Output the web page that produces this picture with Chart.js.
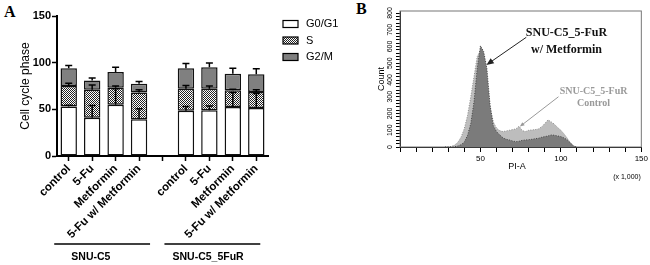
<!DOCTYPE html>
<html>
<head>
  <title>Cell cycle</title>
  <script src="https://cdn.jsdelivr.net/npm/chart.js"></script>
  <style>
    body {
      margin: 0;
      width: 650px;
      height: 265px;
      position: relative;
      overflow: hidden;
      background: #fff;
    }
    #cycleChart { position: absolute; left: 0; top: 0; }
    #histChart { position: absolute; left: 360px; top: 0; }
    .panel {
      position: absolute;
      font: bold 16px "Liberation Serif", serif;
      color: #000;
      line-height: 16px;
    }
  </style>
</head>
<body>
  <div class="panel" style="left:4px; top:4px">A</div>
  <div class="panel" style="left:356px; top:1px">B</div>
  <canvas id="cycleChart" width="360" height="265"></canvas>
  <canvas id="histChart" width="290" height="265"></canvas>

  <script>
    // panel A - cell cycle phases
    const categories = ['control', '5-Fu', 'Metformin', '5-Fu w/ Metformin', '', 'control', '5-Fu', 'Metformin', '5-Fu w/ Metformin'];
    const groupNames = ['SNU-C5', 'SNU-C5_5FuR'];
    const groupIndex = [[0, 3], [5, 8]];
    const g0g1 = [53, 41, 55, 39.5, null, 48.5, 49, 52.5, 51.5];
    const sPhase = [22, 30, 18, 28.5, null, 23.5, 23, 18, 17];
    const g2m = [19, 10, 17, 9.5, null, 22, 23, 17.5, 19];
    const g0g1Err = [1.5, 13, 17, 11, null, 4.5, 4.5, 15.5, 15.5];
    const sErr = [3, 5, 2, 3, null, 3.5, 3, 1, 2.5];
    const g2mErr = [3, 2.7, 5, 2.3, null, 5, 4.6, 6, 6];
    const cycleTicks = [0, 50, 100, 150];

    // panel B - PI histogram (x in thousands)
    const piValues = [28, 30, 32, 34, 36, 38, 40, 42, 44, 46, 48, 50, 52, 54, 56, 58, 60, 62, 64, 66, 68, 70,
                      72, 74, 76, 78, 80, 82, 84, 86, 88, 90, 92, 94, 96, 98, 100, 102, 104, 106, 108, 110];
    const controlCounts = [0, 0, 4, 12, 28, 60, 110, 190, 300, 420, 540, 575, 520, 390, 240, 150, 112, 98, 92, 96, 100, 104,
                           108, 124, 98, 92, 100, 102, 104, 108, 120, 140, 162, 150, 136, 116, 100, 78, 52, 22, 4, 0];
    const metforminCounts = [0, 0, 0, 2, 6, 14, 30, 70, 140, 270, 470, 605, 570, 470, 250, 125, 92, 72, 55, 46, 42, 36,
                             32, 34, 40, 42, 44, 46, 50, 52, 58, 62, 66, 72, 70, 66, 62, 54, 42, 24, 6, 0];
    const countLabels = [0, 100, 200, 300, 400, 500, 600, 700, 800];
    const piLabels = [50, 100, 150];

    function dotPattern() {
      const c = document.createElement('canvas');
      c.width = 2; c.height = 2;
      const g = c.getContext('2d');
      g.fillStyle = '#fff';
      g.fillRect(0, 0, 2, 2);
      g.fillStyle = '#222';
      g.fillRect(0, 0, 1, 1);
      g.fillRect(1, 1, 1, 1);
      return g.createPattern(c, 'repeat');
    }
    const sFill = dotPattern();

    const errorBars = {
      id: 'errorBars',
      afterDatasetsDraw(chart) {
        const ctx = chart.ctx;
        const y = chart.scales.y;
        const errs = [g0g1Err, sErr, g2mErr];
        ctx.save();
        ctx.strokeStyle = '#000';
        ctx.lineWidth = 1.5;
        chart.data.datasets.forEach((ds, i) => {
          const meta = chart.getDatasetMeta(i);
          meta.data.forEach((bar, j) => {
            if (ds.data[j] == null) return;
            let top = 0;
            for (let k = 0; k <= i; k++) top += chart.data.datasets[k].data[j];
            const yEnd = y.getPixelForValue(top + errs[i][j]);
            ctx.beginPath();
            ctx.moveTo(bar.x, bar.y);
            ctx.lineTo(bar.x, yEnd);
            ctx.moveTo(bar.x - 3.5, yEnd);
            ctx.lineTo(bar.x + 3.5, yEnd);
            ctx.stroke();
          });
        });
        ctx.restore();
      }
    };

    const cycleExtras = {
      id: 'cycleExtras',
      afterDraw(chart) {
        const ctx = chart.ctx;
        const x = chart.scales.x;
        ctx.save();
        // legend
        const fills = ['#fff', sFill, '#808080'];
        chart.data.datasets.forEach((ds, i) => {
          const cy = 24 + i * 16.5;
          ctx.fillStyle = fills[i];
          ctx.fillRect(283, cy - 3.5, 15, 7);
          ctx.strokeStyle = '#000';
          ctx.lineWidth = 1.2;
          ctx.strokeRect(283, cy - 3.5, 15, 7);
          ctx.fillStyle = '#000';
          ctx.font = '11px Arial, "Liberation Sans", sans-serif';
          ctx.textAlign = 'left';
          ctx.textBaseline = 'middle';
          ctx.fillText(ds.label, 306, cy);
        });
        // group lines under the category labels
        const offsets = [[-14.5, 11], [-21.5, 4]];
        groupNames.forEach((name, g) => {
          const a = x.getPixelForValue(groupIndex[g][0]);
          const b = x.getPixelForValue(groupIndex[g][1]);
          ctx.strokeStyle = '#000';
          ctx.lineWidth = 1.5;
          ctx.beginPath();
          ctx.moveTo(a + offsets[g][0], 244);
          ctx.lineTo(b + offsets[g][1], 244);
          ctx.stroke();
          ctx.font = 'bold 10.5px Arial, "Liberation Sans", sans-serif';
          ctx.textAlign = 'center';
          ctx.textBaseline = 'middle';
          ctx.fillText(name, (a + b) / 2 - 13, 257);
        });
        ctx.restore();
      }
    };

    new Chart(document.getElementById('cycleChart'), {
      type: 'bar',
      data: {
        labels: categories,
        datasets: [
          { label: 'G0/G1', data: g0g1, backgroundColor: '#fff' },
          { label: 'S', data: sPhase, backgroundColor: sFill },
          { label: 'G2/M', data: g2m, backgroundColor: '#808080' }
        ]
      },
      options: {
        responsive: false,
        animation: false,
        devicePixelRatio: 1,
        layout: { padding: { left: 18, top: 16, right: 92, bottom: 0 } },
        datasets: {
          bar: { borderColor: '#111', borderWidth: 1.5, borderSkipped: false, barPercentage: 0.7, categoryPercentage: 1 }
        },
        plugins: { legend: { display: false }, tooltip: { enabled: false } },
        scales: {
          x: {
            stacked: true,
            grid: { offset: false, drawOnChartArea: false, color: '#000', tickLength: 5, tickWidth: 1.5 },
            border: { color: '#000', width: 2 },
            ticks: {
              autoSkip: false, minRotation: 45, maxRotation: 45, padding: 1, color: '#000',
              font: { size: 11.5, weight: 'bold', family: 'Arial, "Liberation Sans", sans-serif' }
            },
            afterFit: s => { s.height = 109; }
          },
          y: {
            stacked: true,
            min: 0,
            max: 150,
            afterBuildTicks: s => { s.ticks = cycleTicks.map(v => ({ value: v })); },
            grid: { drawOnChartArea: false, color: '#000', tickLength: 5, tickWidth: 1.5 },
            border: { color: '#000', width: 2 },
            ticks: { padding: 1, color: '#000', font: { size: 11, weight: 'bold', family: 'Arial, "Liberation Sans", sans-serif' } },
            title: {
              display: true, text: 'Cell cycle phase', color: '#000', padding: 0,
              font: { size: 12, family: 'Arial, "Liberation Sans", sans-serif' }
            },
            afterFit: s => { s.width = 39; }
          }
        }
      },
      plugins: [errorBars, cycleExtras]
    });

    const histExtras = {
      id: 'histExtras',
      beforeDatasetsDraw(chart) {
        const a = chart.chartArea;
        const ctx = chart.ctx;
        ctx.save();
        ctx.strokeStyle = '#777';
        ctx.lineWidth = 1;
        ctx.strokeRect(a.left, a.top, a.right - a.left, a.bottom - a.top);
        ctx.restore();
      },
      afterDraw(chart) {
        const ctx = chart.ctx;
        const x = chart.scales.x;
        const y = chart.scales.y;
        ctx.save();
        function arrow(x1, y1, x2, y2, color, width, head) {
          const ax = x.getPixelForValue(x1), ay = y.getPixelForValue(y1);
          const bx = x.getPixelForValue(x2), by = y.getPixelForValue(y2);
          const ang = Math.atan2(by - ay, bx - ax);
          ctx.strokeStyle = color;
          ctx.fillStyle = color;
          ctx.lineWidth = width;
          ctx.beginPath();
          ctx.moveTo(ax, ay);
          ctx.lineTo(bx - Math.cos(ang) * head * 0.8, by - Math.sin(ang) * head * 0.8);
          ctx.stroke();
          ctx.beginPath();
          ctx.moveTo(bx, by);
          ctx.lineTo(bx - head * Math.cos(ang - 0.4), by - head * Math.sin(ang - 0.4));
          ctx.lineTo(bx - head * Math.cos(ang + 0.4), by - head * Math.sin(ang + 0.4));
          ctx.closePath();
          ctx.fill();
        }
        arrow(78.5, 655, 53.7, 490, '#222', 1, 8);
        arrow(98.5, 300, 74.5, 122, '#999', 1, 5);

        ctx.textAlign = 'center';
        ctx.textBaseline = 'middle';
        ctx.fillStyle = '#111';
        ctx.font = 'bold 12px "Liberation Serif", serif';
        ctx.fillText('SNU-C5_5-FuR', x.getPixelForValue(103.5), y.getPixelForValue(680));
        ctx.fillText('w/ Metformin', x.getPixelForValue(103.5), y.getPixelForValue(578));
        ctx.fillStyle = '#9a9a9a';
        ctx.font = 'bold 10px "Liberation Serif", serif';
        ctx.fillText('SNU-C5_5-FuR', x.getPixelForValue(120.3), y.getPixelForValue(333));
        ctx.fillText('Control', x.getPixelForValue(120.3), y.getPixelForValue(262));

        ctx.fillStyle = '#000';
        ctx.font = '9px Arial, "Liberation Sans", sans-serif';
        ctx.fillText('PI-A', 157, 167);
        ctx.font = '7px Arial, "Liberation Sans", sans-serif';
        ctx.fillText('(x 1,000)', 267, 177);
        ctx.restore();
      }
    };

    new Chart(document.getElementById('histChart'), {
      type: 'line',
      data: {
        datasets: [
          {
            label: 'SNU-C5_5-FuR w/ Metformin',
            data: piValues.map((v, i) => ({ x: v, y: metforminCounts[i] })),
            fill: 'origin', backgroundColor: '#7b7b7b', borderColor: '#444',
            borderWidth: 1, borderDash: [1, 1.5], pointRadius: 0, tension: 0
          },
          {
            label: 'SNU-C5_5-FuR Control',
            data: piValues.map((v, i) => ({ x: v, y: controlCounts[i] })),
            fill: 'origin', backgroundColor: '#bdbdbd', borderColor: '#8c8c8c',
            borderWidth: 1, borderDash: [1, 1.5], pointRadius: 0, tension: 0
          }
        ]
      },
      options: {
        responsive: false,
        animation: false,
        devicePixelRatio: 1,
        layout: { padding: { left: 16, top: 11, right: 8, bottom: 0 } },
        plugins: { legend: { display: false }, tooltip: { enabled: false } },
        scales: {
          x: {
            type: 'linear', min: 0, max: 150,
            grid: { drawOnChartArea: false, color: '#000', tickLength: 5 },
            border: { color: '#000', width: 1 },
            ticks: {
              stepSize: 10, autoSkip: false, maxRotation: 0, padding: 2, color: '#000',
              font: { size: 8, family: 'Arial, "Liberation Sans", sans-serif' },
              callback: v => piLabels.includes(v) ? v : ''
            },
            afterFit: s => { s.height = 118; }
          },
          y: {
            min: 0, max: 812,
            grid: { drawOnChartArea: false, color: '#000', tickLength: 4 },
            border: { color: '#000', width: 1 },
            ticks: {
              stepSize: 20, includeBounds: false, autoSkip: false, minRotation: 90, maxRotation: 90,
              crossAlign: 'center', padding: 0, color: '#000',
              font: { size: 7, family: 'Arial, "Liberation Sans", sans-serif' },
              callback: v => countLabels.includes(v) ? v : ''
            },
            title: {
              display: true, text: 'Count', color: '#000', padding: 0,
              font: { size: 9, family: 'Arial, "Liberation Sans", sans-serif' }
            },
            afterFit: s => { s.width = 24; }
          }
        }
      },
      plugins: [histExtras]
    });
  </script>
</body>
</html>
